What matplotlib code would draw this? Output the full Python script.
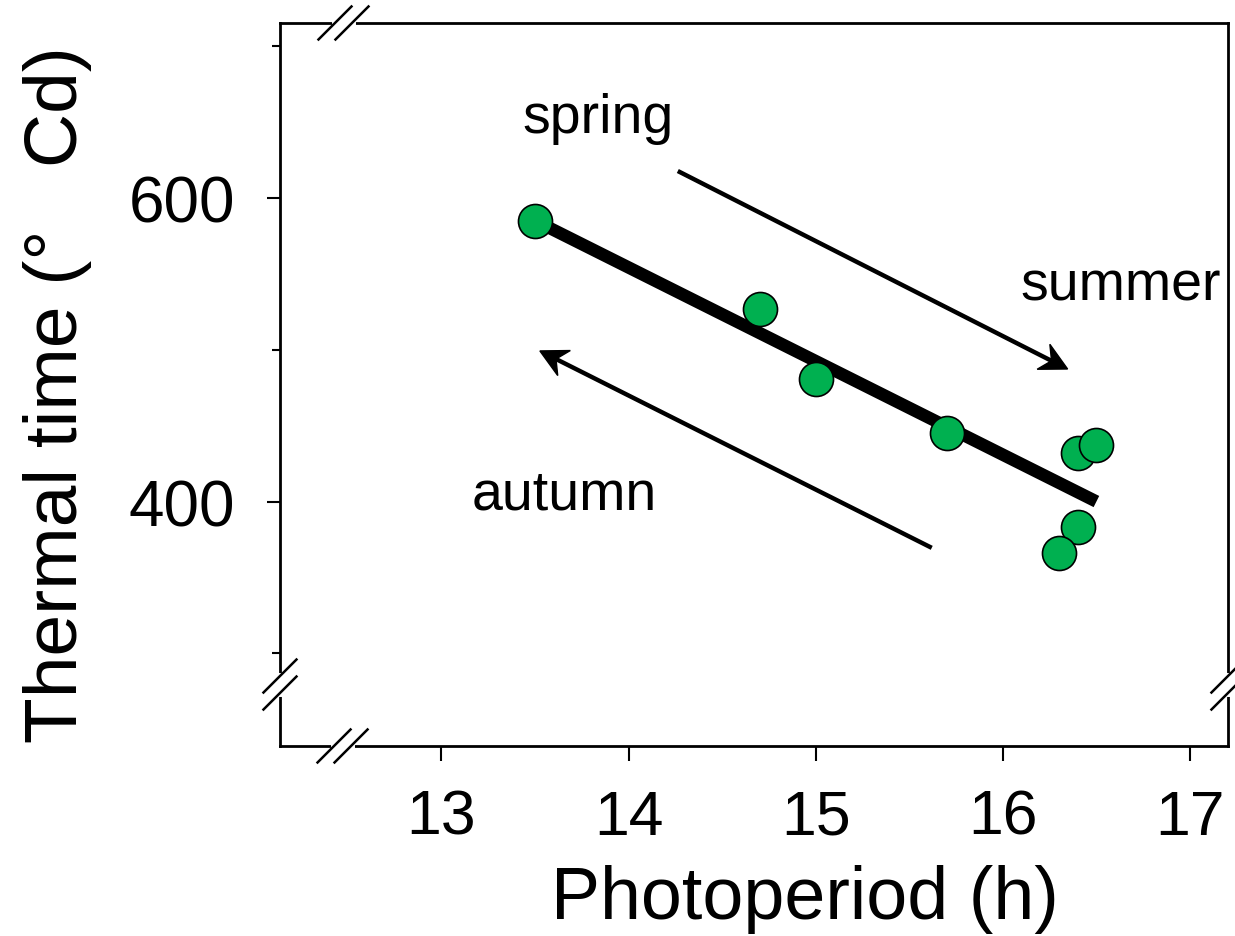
import numpy as np
import matplotlib
matplotlib.use("Agg")
import matplotlib.pyplot as plt
from matplotlib.patches import Polygon
from matplotlib.transforms import IdentityTransform

# values
photoperiod = [13.5, 14.7, 15.0, 15.7, 16.4, 16.5, 16.4, 16.3]
thermal_time = [585, 527, 481, 445, 432, 437, 383, 366]
fit_x = [13.5, 16.5]
fit_y = [585, 400]
x_ticks = [13, 14, 15, 16, 17]
y_major = [400, 600]
y_minor = [300, 500, 700]

plt.rcParams['font.family'] = ['Liberation Sans', 'DejaVu Sans']

fig = plt.figure(figsize=(12.35, 9.37), dpi=100)
ax = fig.add_axes([0.2267, 0.2028, 0.7676, 0.7716])

ax.plot(fit_x, fit_y, color="black", lw=9, solid_capstyle="butt", zorder=2)
ax.plot(photoperiod, thermal_time, "o", ms=24.5, mfc="#00B050", mec="black",
        mew=1.2, zorder=3)

ax.set_xlim(12.137, 17.203)
ax.set_ylim(239, 715.2)

ax.set_xticks(x_ticks)
ax.set_yticks(y_major)
ax.set_yticks(y_minor, minor=True)
ax.tick_params(axis="x", direction="out", length=11, width=1.5, labelsize=45, pad=19)
ax.tick_params(axis="y", which="major", direction="out", length=9.5, width=1.5,
               labelsize=46, pad=23)
ax.tick_params(axis="y", which="minor", direction="out", length=6, width=1.5)
for s in ax.spines.values():
    s.set_linewidth(2)

ax.set_xlabel("Photoperiod (h)", fontsize=53)
ax.xaxis.set_label_coords(0.554, -0.163)
ax.set_ylabel("Thermal time (°   Cd)", fontsize=54)
ax.yaxis.set_label_coords(-0.198, 0.487)


def season_arrow(start, end):
    # shaft plus a notched (stealth) head drawn in pixel space
    p0 = ax.transData.transform(start)
    p1 = ax.transData.transform(end)
    d = (p1 - p0) / np.hypot(*(p1 - p0))
    n = np.array([-d[1], d[0]])
    notch = p1 - 18 * d
    ax.plot([p0[0], notch[0]], [p0[1], notch[1]], color="black", lw=3.2,
            transform=IdentityTransform(), solid_capstyle="butt")
    head = [p1, p1 - 27 * d + 14 * n, notch, p1 - 27 * d - 14 * n]
    ax.add_patch(Polygon(head, closed=True, color="black",
                         transform=IdentityTransform()))


season_arrow((14.263, 617.7), (16.346, 487.3))
season_arrow((15.62, 369.5), (13.526, 499.2))
ax.text(13.836, 643.4, "spring", fontsize=40, ha="center", va="baseline")
ax.text(16.63, 533.4, "summer", fontsize=40, ha="center", va="baseline")
ax.text(13.654, 395.2, "autumn", fontsize=40, ha="center", va="baseline")

# axis break marks
w_px, h_px = 948, 723
half = 16.5
sep = 8.5


def spine_break(xc, yc, horizontal):
    if horizontal:
        centers = [(xc - sep / w_px, yc), (xc + sep / w_px, yc)]
    else:
        centers = [(xc, yc - sep / h_px), (xc, yc + sep / h_px)]
    (x1, y1), (x2, y2) = centers
    ax.plot([x1, x2], [y1, y2], color="white", lw=5, transform=ax.transAxes,
            clip_on=False, zorder=5)
    for cx, cy in centers:
        ax.plot([cx - half / w_px, cx + half / w_px], [cy - half / h_px, cy + half / h_px],
                color="black", lw=1.8, transform=ax.transAxes, clip_on=False, zorder=6)


spine_break(0.067, 1.0, True)
spine_break(0.066, 0.0, True)
spine_break(0.0, 0.085, False)
spine_break(1.0, 0.085, False)

fig.savefig("out.png", dpi=100)
